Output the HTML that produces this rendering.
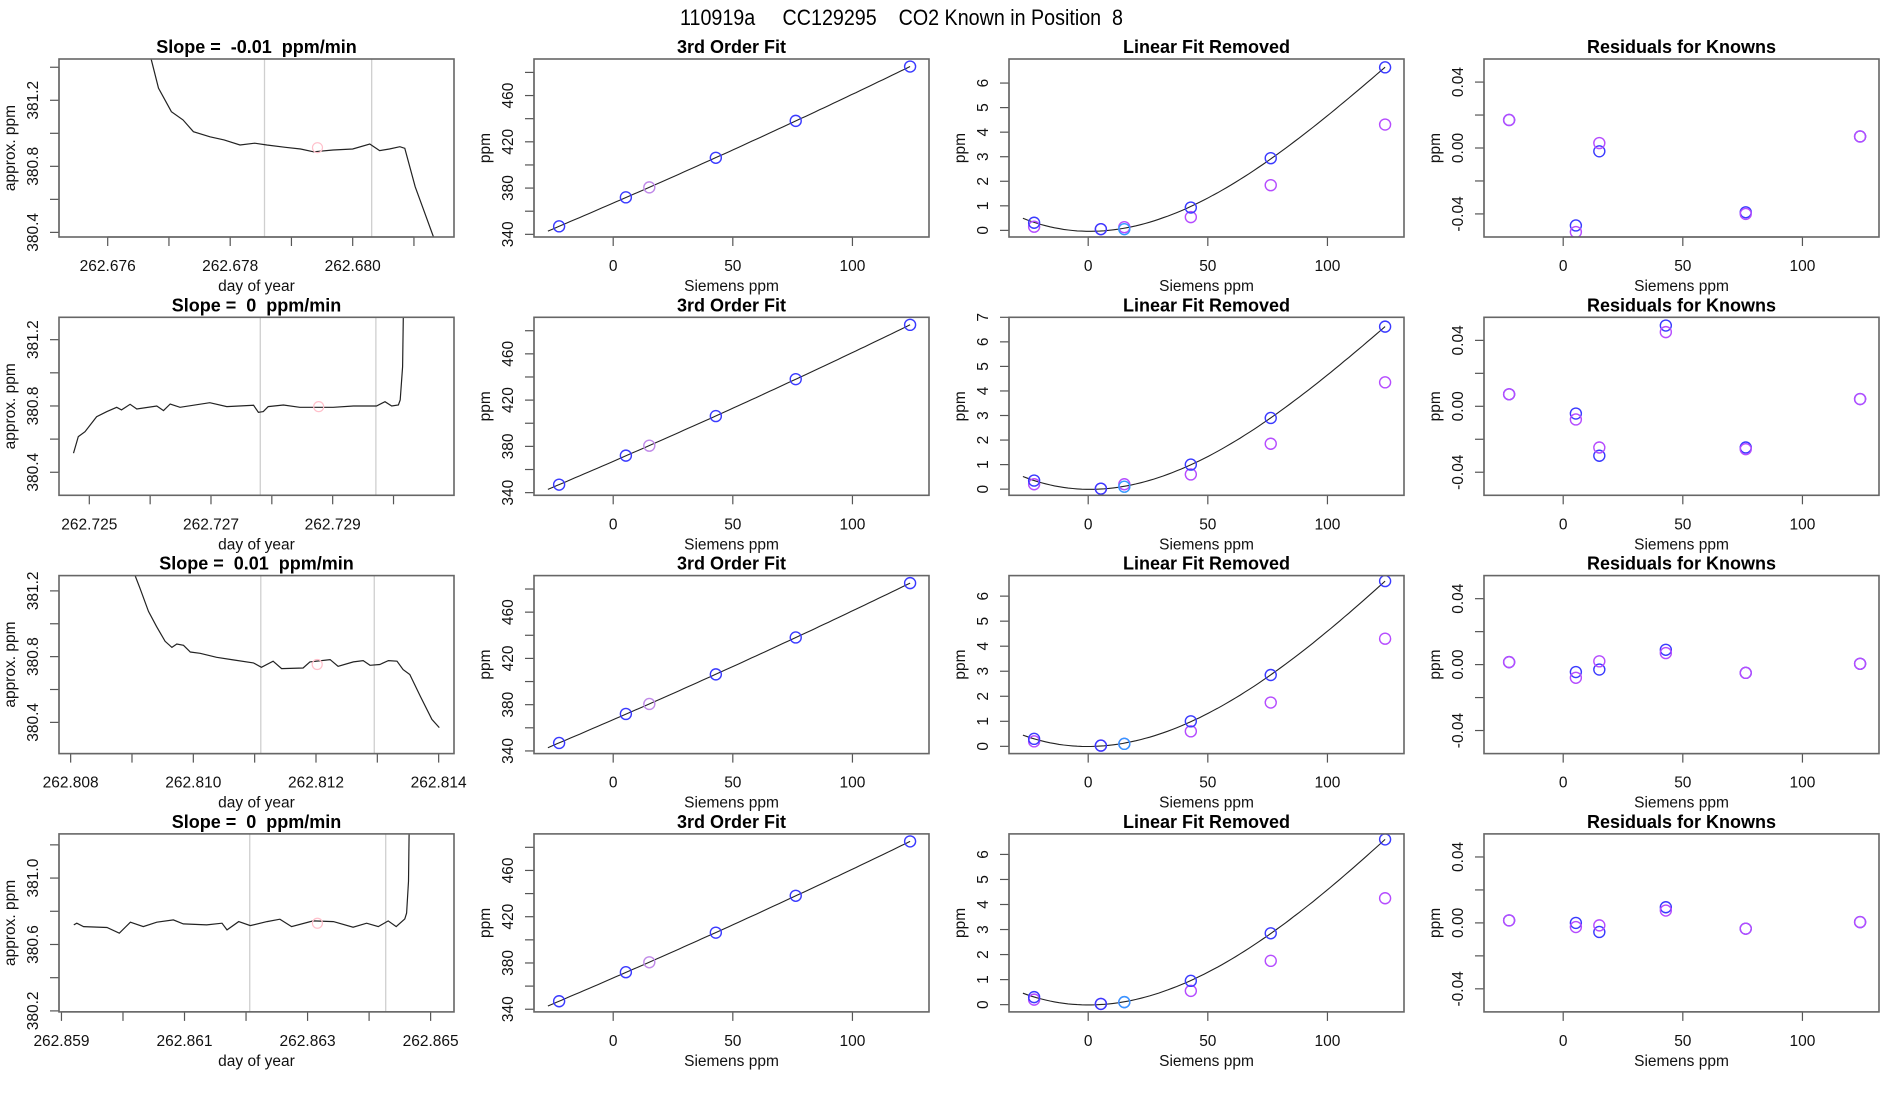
<!DOCTYPE html>
<html><head><meta charset="utf-8"><title>CO2 Known in Position 8</title>
<style>
html,body{margin:0;padding:0;background:#fff;}
svg{display:block;font-family:"Liberation Sans",sans-serif;}
</style></head>
<body>
<svg id="fig" width="1900" height="1100" viewBox="0 0 1900 1100" xmlns="http://www.w3.org/2000/svg">
<rect x="0" y="0" width="1900" height="1100" fill="#fff"/>
<text x="680" y="25" font-size="22" textLength="443" lengthAdjust="spacingAndGlyphs" xml:space="preserve">110919a     CC129295    CO2 Known in Position  8</text>
</svg>
<script>
// ---------- time-series (column 1) data ----------
const traceT1 = [262.67671,262.67683,262.67704,262.67723,262.67740,262.67767,262.67790,262.67816,262.67840,262.67860,262.67890,262.67915,262.67936,262.67968,262.68000,262.68028,262.68044,262.68060,262.68077,262.68085,262.68102,262.68115,262.68132];
const traceV1 = [381.448,381.273,381.131,381.081,381.010,380.979,380.960,380.929,380.940,380.929,380.915,380.905,380.888,380.899,380.905,380.935,380.895,380.905,380.919,380.909,380.676,380.545,380.372];
const traceT2 = [262.72474,262.72482,262.72493,262.72512,262.72529,262.72545,262.72553,262.72567,262.72578,262.72611,262.72622,262.72633,262.72649,262.72698,262.72726,262.72770,262.72778,262.72786,262.72794,262.72819,262.72846,262.72901,262.72934,262.72972,262.72986,262.72997,262.73008,262.73011,262.73015,262.73016];
const traceV2 = [380.515,380.615,380.645,380.735,380.766,380.792,380.776,380.810,380.782,380.800,380.772,380.812,380.792,380.820,380.796,380.804,380.762,380.766,380.796,380.806,380.792,380.792,380.800,380.800,380.826,380.800,380.806,380.836,381.037,381.335];
const traceT3 = [262.80905,262.80913,262.80927,262.80940,262.80954,262.80965,262.80973,262.80984,262.80995,262.81011,262.81038,262.81065,262.81098,262.81111,262.81130,262.81144,262.81179,262.81190,262.81223,262.81236,262.81261,262.81277,262.81288,262.81304,262.81318,262.81332,262.81342,262.81353,262.81370,262.81389,262.81401];
const traceV3 = [381.293,381.216,381.075,380.984,380.893,380.856,380.877,380.869,380.828,380.820,380.796,380.780,380.762,380.735,380.772,380.727,380.731,380.768,380.782,380.741,380.768,380.776,380.747,380.752,380.776,380.772,380.721,380.691,380.559,380.418,380.368];
const traceT4 = [262.85920,262.85925,262.85936,262.85974,262.85994,262.86012,262.86033,262.86055,262.86082,262.86098,262.86136,262.86161,262.86169,262.86188,262.86207,262.86234,262.86255,262.86274,262.86309,262.86342,262.86374,262.86396,262.86415,262.86431,262.86444,262.86458,262.86461,262.86464,262.86465];
const traceV4 = [380.718,380.728,380.708,380.702,380.668,380.734,380.708,380.734,380.748,380.724,380.718,380.728,380.688,380.738,380.714,380.738,380.752,380.708,380.742,380.738,380.704,380.728,380.708,380.742,380.708,380.754,380.789,380.980,381.266];
const windowStart = [262.67856,262.72781,262.81110,262.86206];
const windowEnd   = [262.68031,262.72971,262.81295,262.86427];
const meanT = [262.679425,262.72877,262.81202,262.86316];
const meanV = [380.913,380.796,380.752,380.728];
const slopeText = ["-0.01","0","0.01","0"];
const tsXTicks1 = [262.676,262.677,262.678,262.679,262.680,262.681];
const tsXTicks2 = [262.725,262.726,262.727,262.728,262.729,262.730];
const tsXTicks3 = [262.808,262.809,262.810,262.811,262.812,262.813,262.814];
const tsXTicks4 = [262.859,262.860,262.861,262.862,262.863,262.864,262.865];
const tsYTicks1 = [380.4,380.6,380.8,381.0,381.2,381.4];
const tsYTicks2 = [380.4,380.6,380.8,381.0,381.2];
const tsYTicks3 = [380.4,380.6,380.8,381.0,381.2];
const tsYTicks4 = [380.2,380.4,380.6,380.8,381.0,381.2];
// ---------- calibration data (columns 2-4) ----------
const siemensX = [-22.6,5.3,15.1,42.9,76.3,124.1];
const knownPpm = [346.9,372.0,380.6,406.2,438.1,485.1];
const knownColor = ["b","b","m","b","b","b"];
const linRemBlue1 = [0.31,0.05,0.05,0.93,2.94,6.64];
const linRemMag1  = [0.15,0.05,0.13,0.54,1.84,4.31];
const linRemBlue2 = [0.35,0.02,0.10,1.00,2.90,6.62];
const linRemMag2  = [0.20,0.02,0.20,0.60,1.85,4.35];
const linRemBlue3 = [0.30,0.03,0.10,1.00,2.85,6.60];
const linRemMag3  = [0.20,0.03,0.10,0.60,1.75,4.30];
const linRemBlue4 = [0.30,0.03,0.10,0.95,2.85,6.60];
const linRemMag4  = [0.20,0.03,0.10,0.55,1.75,4.25];
const resBlue1 = [0.017,-0.047,-0.002,null,-0.039,0.007];
const resMag1  = [0.017,-0.051,0.003,null,-0.040,0.007];
const resBlue2 = [0.0073,-0.0044,-0.030,0.049,-0.025,0.0044];
const resMag2  = [0.0073,-0.008,-0.025,0.045,-0.026,0.0044];
const resBlue3 = [0.0015,-0.0045,-0.003,0.009,-0.005,0.0005];
const resMag3  = [0.0015,-0.008,0.002,0.007,-0.005,0.0005];
const resBlue4 = [0.0015,0.000,-0.0055,0.0095,-0.0035,0.0005];
const resMag4  = [0.0015,-0.0025,-0.0015,0.0075,-0.0035,0.0005];
const calXTicks = [0,50,100];
const fitYTicks = [340,360,380,400,420,440,460,480];
const resYTicks = [-0.04,-0.02,0,0.02,0.04];

const NS = "http://www.w3.org/2000/svg";
const svg = document.getElementById("fig");
const BLUE = "#3a3aff", MAG = "#b54cff", CYAN = "#3399ff";
function mk(tag, attrs, parent) {
  const e = document.createElementNS(NS, tag);
  for (const k in attrs) e.setAttribute(k, attrs[k]);
  (parent || svg).appendChild(e);
  return e;
}
const BOXW = 395, BOXH = 178;
function boxPos(col,row){ return {x: 59 + col*475, y: 59 + row*258.3}; }
function scale(d0,d1,p0,p1){ return v => p0 + (v-d0)/(d1-d0)*(p1-p0); }

function drawPanel(col,row,xlim,ylim,xt,xlabEvery,xfmt,yt,ylabEvery,yfmt,title,xtitle,ytitle,name){
  const b = boxPos(col,row);
  const g = mk("g",{});
  
  
  const sx = scale(xlim[0],xlim[1],b.x,b.x+BOXW);
  const sy = scale(ylim[0],ylim[1],b.y+BOXH,b.y);
  const cid = "clip-"+name;
  const cp = mk("clipPath",{id:cid},g);
  mk("rect",{x:b.x,y:b.y,width:BOXW,height:BOXH},cp);
  const plot = mk("g",{"clip-path":"url(#"+cid+")"},g);
  const xa = mk("g",{},g);
  
  
  const yb = b.y+BOXH;
  mk("line",{x1:sx(xt[0]),x2:sx(xt[xt.length-1]),y1:yb,y2:yb,stroke:"#333","stroke-width":1.2},xa);
  xt.forEach((v,i)=>{
    const px = sx(v);
    mk("line",{x1:px,x2:px,y1:yb,y2:yb+9,stroke:"#555","stroke-width":1.2},xa);
    if(i%xlabEvery===0){
      const t = mk("text",{x:px,y:yb+34,"text-anchor":"middle","font-size":15.5,fill:"#111"},xa);
      
      
      t.textContent = xfmt(v);
    }
  });
  const xtt = mk("text",{x:b.x+BOXW/2,y:yb+54,"text-anchor":"middle","font-size":15.5,fill:"#111"},xa);
  
  
  xtt.textContent = xtitle;
  const ya = mk("g",{},g);
  
  
  mk("line",{x1:b.x,x2:b.x,y1:sy(yt[0]),y2:sy(yt[yt.length-1]),stroke:"#333","stroke-width":1.2},ya);
  yt.forEach((v,i)=>{
    const py = sy(v);
    mk("line",{x1:b.x-9,x2:b.x,y1:py,y2:py,stroke:"#555","stroke-width":1.2},ya);
    if(i%ylabEvery===0){
      const t = mk("text",{x:0,y:0,transform:"translate("+(b.x-21)+","+py+") rotate(-90)","text-anchor":"middle","font-size":15.5,fill:"#111"},ya);
      
      
      t.textContent = yfmt(v);
    }
  });
  const ytt = mk("text",{x:0,y:0,transform:"translate("+(b.x-44)+","+(b.y+BOXH/2)+") rotate(-90)","text-anchor":"middle","font-size":15.5,fill:"#111"},ya);
  
  
  ytt.textContent = ytitle;
  mk("rect",{x:b.x,y:b.y,width:BOXW,height:BOXH,fill:"none",stroke:"#666","stroke-width":1.6},g);
  const tt = mk("text",{x:b.x+BOXW/2,y:b.y-6,"text-anchor":"middle","font-size":18,"font-weight":"bold",fill:"#000","xml:space":"preserve"},g);
  tt.setAttributeNS("http://www.w3.org/XML/1998/namespace","xml:space","preserve");
  
  
  tt.textContent = title;
  return {sx,sy,plot};
}
function circle(parent,x,y,color,name){
  const c = mk("circle",{cx:x,cy:y,r:5.5,fill:"none",stroke:color,"stroke-width":1.4},parent);
  
  
  return c;
}
function polyFit3(xs,ys){
  const n=4, A=[],B=[];
  for(let i=0;i<n;i++){A.push(new Array(n).fill(0));B.push(0);}
  xs.forEach((x,k)=>{ if(ys[k]==null) return;
    const p=[1,x,x*x,x*x*x];
    for(let i=0;i<n;i++){ B[i]+=p[i]*ys[k]; for(let j=0;j<n;j++) A[i][j]+=p[i]*p[j]; } });
  for(let i=0;i<n;i++){ let m=i; for(let r=i+1;r<n;r++) if(Math.abs(A[r][i])>Math.abs(A[m][i])) m=r;
    [A[i],A[m]]=[A[m],A[i]]; [B[i],B[m]]=[B[m],B[i]];
    for(let r=i+1;r<n;r++){ const f=A[r][i]/A[i][i]; for(let c=i;c<n;c++) A[r][c]-=f*A[i][c]; B[r]-=f*B[i]; } }
  const c=new Array(n).fill(0);
  for(let i=n-1;i>=0;i--){ let s=B[i]; for(let j=i+1;j<n;j++) s-=A[i][j]*c[j]; c[i]=s/A[i][i]; }
  return x=>c[0]+c[1]*x+c[2]*x*x+c[3]*x*x*x;
}

const traceT=[traceT1,traceT2,traceT3,traceT4], traceV=[traceV1,traceV2,traceV3,traceV4];
const tsXT=[tsXTicks1,tsXTicks2,tsXTicks3,tsXTicks4], tsYT=[tsYTicks1,tsYTicks2,tsYTicks3,tsYTicks4];
const tsXlim=[[262.675205,262.681654],[262.724502,262.730994],[262.80781,262.81425],[262.85896,262.86538]];
const tsYlim=[[380.372,381.45],[380.261,381.335],[380.210,381.293],[380.194,381.266]];
const linB=[linRemBlue1,linRemBlue2,linRemBlue3,linRemBlue4], linM=[linRemMag1,linRemMag2,linRemMag3,linRemMag4];
const linYlim=[[-0.27,6.98],[-0.25,7.0],[-0.29,6.82],[-0.29,6.82]];
const resB=[resBlue1,resBlue2,resBlue3,resBlue4], resM=[resMag1,resMag2,resMag3,resMag4];
const calXlim=[-33.1,132.0];
const fitStartX = -27.3;

for(let r=0;r<4;r++){
  const p1 = drawPanel(0,r,tsXlim[r],tsYlim[r],tsXT[r],2,v=>v.toFixed(3),tsYT[r],2,v=>v.toFixed(1),
    "Slope =  "+slopeText[r]+"  ppm/min","day of year","approx. ppm","timeseries-panel-row"+(r+1));
  [windowStart[r],windowEnd[r]].forEach(v=>{
    const l = mk("line",{x1:p1.sx(v),x2:p1.sx(v),y1:boxPos(0,r).y,y2:boxPos(0,r).y+BOXH,stroke:"#cfcfcf","stroke-width":1.3},p1.plot);
    
    
  });
  const pts = traceT[r].map((t,i)=>p1.sx(t).toFixed(1)+","+p1.sy(traceV[r][i]).toFixed(1)).join(" ");
  const pl = mk("polyline",{points:pts,fill:"none",stroke:"#222","stroke-width":1.2},p1.plot);
  
  
  const mc = mk("circle",{cx:p1.sx(meanT[r]),cy:p1.sy(meanV[r]),r:5,fill:"none",stroke:"#ffc0cb","stroke-width":1.2},p1.plot);
  
  

  const p2 = drawPanel(1,r,calXlim,[337.7,491.6],calXTicks,1,v=>String(v),fitYTicks,2,v=>String(v),
    "3rd Order Fit","Siemens ppm","ppm","fit-panel-row"+(r+1));
  const f2 = polyFit3(siemensX,knownPpm);
  const xmax = Math.max(...siemensX);
  let cp=[]; for(let i=0;i<=80;i++){ const x=fitStartX+(xmax-fitStartX)*i/80; cp.push(p2.sx(x).toFixed(1)+","+p2.sy(f2(x)).toFixed(1)); }
  const fl = mk("polyline",{points:cp.join(" "),fill:"none",stroke:"#222","stroke-width":1.1},p2.plot);
  
  
  siemensX.forEach((x,i)=>circle(p2.plot,p2.sx(x),p2.sy(knownPpm[i]),knownColor[i]==="m"?"#c08ae8":BLUE,"known-point"));

  const yt3 = []; for(let v=0; v<=Math.floor(linYlim[r][1]); v++) yt3.push(v);
  const p3 = drawPanel(2,r,calXlim,linYlim[r],calXTicks,1,v=>String(v),yt3,1,v=>String(v),
    "Linear Fit Removed","Siemens ppm","ppm","linear-removed-panel-row"+(r+1));
  const f3 = polyFit3(siemensX,linB[r]);
  cp=[]; for(let i=0;i<=80;i++){ const x=fitStartX+(xmax-fitStartX)*i/80; cp.push(p3.sx(x).toFixed(1)+","+p3.sy(f3(x)).toFixed(1)); }
  const cl = mk("polyline",{points:cp.join(" "),fill:"none",stroke:"#222","stroke-width":1.1},p3.plot);
  
  
  siemensX.forEach((x,i)=>circle(p3.plot,p3.sx(x),p3.sy(linM[r][i]),MAG,"measured-point"));
  siemensX.forEach((x,i)=>circle(p3.plot,p3.sx(x),p3.sy(linB[r][i]),i===2?CYAN:BLUE,"known-point"));

  const p4 = drawPanel(3,r,calXlim,[-0.054,0.054],calXTicks,1,v=>String(v),resYTicks,2,v=>v.toFixed(2),
    "Residuals for Knowns","Siemens ppm","ppm","residuals-panel-row"+(r+1));
  siemensX.forEach((x,i)=>{ if(resB[r][i]!=null) circle(p4.plot,p4.sx(x),p4.sy(resB[r][i]),BLUE,"residual-blue"); });
  siemensX.forEach((x,i)=>{ if(resM[r][i]!=null) circle(p4.plot,p4.sx(x),p4.sy(resM[r][i]),MAG,"residual-magenta"); });
}
</script>
</body></html>
